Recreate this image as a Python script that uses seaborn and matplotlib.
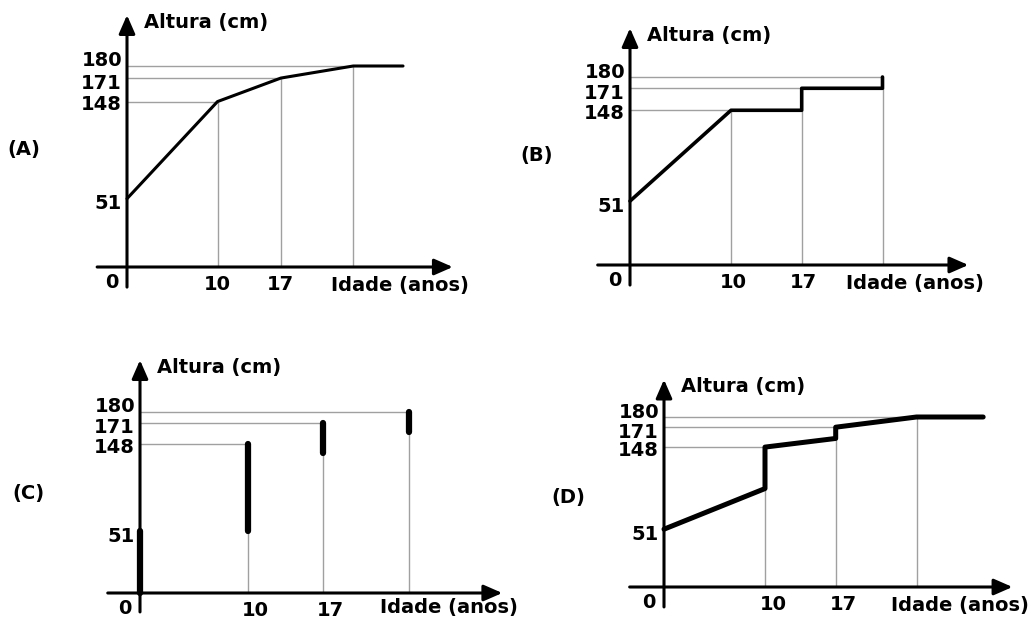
import numpy as np
import pandas as pd
import matplotlib
matplotlib.use("Agg")
import matplotlib.pyplot as plt
import seaborn as sns

# ---- data ----
ages_A = [0, 10, 17, 25, 30.5]
height_A = [51, 148, 171, 180, 180]

ages_B = [0, 10, 17, 17, 25, 25]
height_B = [51, 148, 148, 171, 171, 180]

bar_age_C = [0, 10, 17, 25]
bar_low_C = [0, 51, 138, 161]
bar_high_C = [51, 148, 171, 180]

ages_D = [0, 10, 10, 17, 17, 25, 31.6]
height_D = [51, 99, 148, 158, 171, 180, 180]

marked_ages = [10, 17, 25]
marked_heights = [148, 171, 180]
# where each vertical guide meets the curve (A, B, C, D)
guide_tops = {"A": [148, 171, 180], "B": [148, 148, 171],
              "C": [51, 138, 161], "D": [99, 158, 180]}

y_tick_values = [180, 171, 148, 51]
x_tick_values = [10, 17]
panel_names = ["A", "B", "C", "D"]

# ---- the drawing's y axis is not linear: piecewise scale ----
knot_h = [-60, 0, 51, 148, 171, 180, 500]
knot_u = [-0.4, 0, 0.34, 0.823, 0.94, 1.0, 3.133]


def fwd(v):
    return np.interp(v, knot_h, knot_u)


def inv(u):
    return np.interp(u, knot_u, knot_h)


sns.set_theme(style="white")
plt.rcParams["font.family"] = ["DejaVu Sans"]
plt.rcParams["font.weight"] = "bold"
plt.rcParams["text.color"] = "black"

W, Hf = 1036, 619
fig = plt.figure(figsize=(W / 100, Hf / 100), dpi=100)

# pixel geometry of each panel: box, origin, px per year, px for 180 cm, axis extents
layout = {
    "A": dict(box=(0, 0, 500, 310), org=(127, 267), sx=9.05, H=201,
              xax=(-3.3, 36), yax=(-15, 218), lw=2.2, lab=(24, 150), xdx=0, tdy=-19),
    "B": dict(box=(500, 0, 536, 310), org=(630, 265), sx=10.1, H=188,
              xax=(-3.2, 33.5), yax=(-16, 219), lw=2.6, lab=(537, 155), xdx=2, tdy=-19),
    "C": dict(box=(0, 310, 520, 309), org=(140, 593), sx=10.75, H=181,
              xax=(-3.0, 33.7), yax=(-15.7, 223), lw=4.5, lab=(28, 493), xdx=8, tdy=-15),
    "D": dict(box=(520, 310, 516, 309), org=(664, 587), sx=10.1, H=170,
              xax=(-3.4, 34.5), yax=(-17.6, 213), lw=3.6, lab=(568, 497), xdx=8, tdy=-19),
}

PT = 0.72  # points per pixel
ylab_dy = [5, -5, -3, -5]
fs = 14
grey = "#a0a0a0"

for name in panel_names:
    g = layout[name]
    left, top, w, h = g["box"]
    ox, oy = g["org"]
    ax = fig.add_axes([left / W, 1 - (top + h) / Hf, w / W, h / Hf])
    ax.set_yscale("function", functions=(fwd, inv))

    # guide lines
    tops = guide_tops[name]
    ax.vlines(marked_ages, 0, tops, color=grey, lw=1.0, zorder=1)
    ax.hlines(marked_heights, 0, marked_ages, color=grey, lw=1.0, zorder=1)

    # curve
    if name == "A":
        df = pd.DataFrame({"idade": ages_A, "altura": height_A})
        sns.lineplot(data=df, x="idade", y="altura", ax=ax, color="black",
                     lw=g["lw"], estimator=None, sort=False, zorder=3)
    elif name == "B":
        df = pd.DataFrame({"idade": ages_B, "altura": height_B})
        sns.lineplot(data=df, x="idade", y="altura", ax=ax, color="black",
                     lw=g["lw"], estimator=None, sort=False, zorder=3)
    elif name == "C":
        df = pd.DataFrame({"idade": bar_age_C + bar_age_C,
                           "altura": bar_low_C + bar_high_C,
                           "barra": list(range(4)) * 2})
        sns.lineplot(data=df, x="idade", y="altura", units="barra", ax=ax,
                     color="black", lw=g["lw"], estimator=None, sort=True,
                     zorder=3, solid_capstyle="round")
    else:
        df = pd.DataFrame({"idade": ages_D, "altura": height_D})
        sns.lineplot(data=df, x="idade", y="altura", ax=ax, color="black",
                     lw=g["lw"], estimator=None, sort=False, zorder=3)

    # axes with arrow heads
    arrow = dict(arrowstyle="-|>,head_length=0.8,head_width=0.35", lw=2.2,
                 color="black", shrinkA=0, shrinkB=0)
    ax.annotate("", xy=(g["xax"][1], 0), xytext=(g["xax"][0], 0),
                arrowprops=arrow, annotation_clip=False, fontsize=fs, zorder=4)
    ax.annotate("", xy=(0, g["yax"][1]), xytext=(0, g["yax"][0]),
                arrowprops=arrow, annotation_clip=False, fontsize=fs, zorder=4)

    # tick labels
    for v, dy in zip(y_tick_values, ylab_dy):
        ax.annotate(str(v), xy=(0, v), xytext=(-5 * PT, dy * PT),
                    textcoords="offset points", ha="right", va="center",
                    fontsize=fs, fontweight="bold", annotation_clip=False)
    for v in x_tick_values:
        ax.annotate(str(v), xy=(v, 0), xytext=(g["xdx"] * PT, -17 * PT),
                    textcoords="offset points", ha="center", va="center",
                    fontsize=fs, fontweight="bold", annotation_clip=False)
    ax.annotate("0", xy=(0, 0), xytext=(-15 * PT, -16 * PT),
                textcoords="offset points", ha="center", va="center",
                fontsize=fs, fontweight="bold", annotation_clip=False)

    # axis titles
    ax.annotate("Altura (cm)", xy=(0, g["yax"][1]), xytext=(17 * PT, -7 * PT),
                textcoords="offset points", ha="left", va="center",
                fontsize=fs, fontweight="bold", annotation_clip=False)
    ax.annotate("Idade (anos)", xy=(g["xax"][1], 0), xytext=(16 * PT, g["tdy"] * PT),
                textcoords="offset points", ha="right", va="center",
                fontsize=fs, fontweight="bold", annotation_clip=False)

    ax.set_xlim((left - ox) / g["sx"], (left + w - ox) / g["sx"])
    ax.set_ylim(inv((oy - (top + h)) / g["H"]), inv((oy - top) / g["H"]))
    ax.axis("off")

    lx, ly = g["lab"]
    fig.text(lx / W, 1 - ly / Hf, f"({name})", ha="center", va="center",
             fontsize=fs, fontweight="bold")

fig.savefig("out.png", dpi=100)
